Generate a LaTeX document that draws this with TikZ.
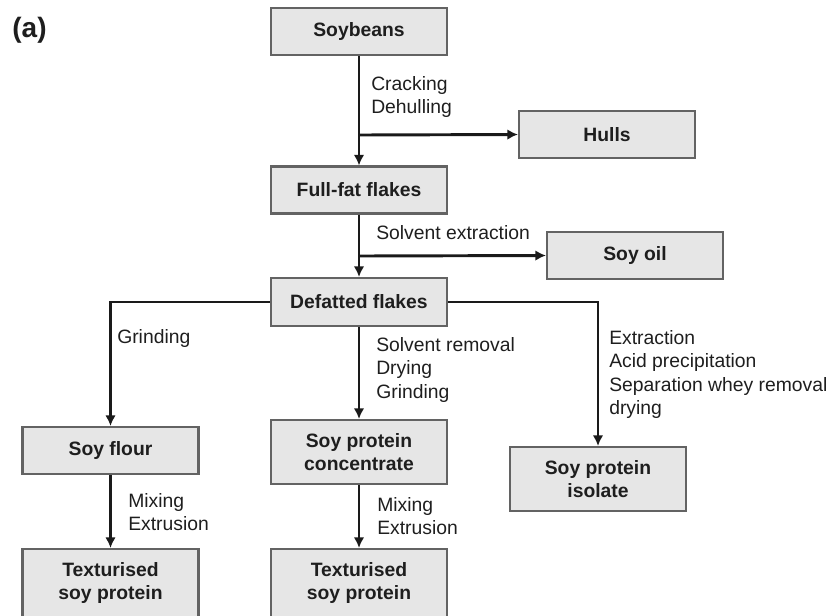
\documentclass[tikz,border=0pt]{standalone}
\usepackage{fontspec}
\setmainfont{Liberation Sans}
\usetikzlibrary{arrows.meta}
\definecolor{boxfill}{HTML}{E6E6E6}
\definecolor{boxline}{HTML}{636363}
\definecolor{linecol}{HTML}{1A1A1A}
\definecolor{txtcol}{HTML}{1E1E1E}
\begin{document}
\begin{tikzpicture}[x=0.75pt,y=-0.75pt,
 box/.style={draw=boxline, fill=boxfill, line width=1.6pt, minimum width=132pt, minimum height=35.25pt, inner sep=0pt, align=center, text=txtcol, font=\fontsize{14.5}{17.6}\selectfont\bfseries},
 tallbox/.style={box, minimum height=48pt},
 lbl/.style={anchor=north west, inner sep=0pt, align=left, text=txtcol, font=\fontsize{14.5}{17.6}\selectfont},
 arr/.style={draw=linecol, line width=2.2pt, -{Latex[length=8pt,width=8pt]}}]
\useasboundingbox (0,0) rectangle (831,615);
\clip (0,0) rectangle (831,615);
% boxes
\node[box] (soy) at (359,31.5) {Soybeans};
\node[box] (hulls) at (607,134.5) {Hulls};
\node[box] (full) at (359,190) {Full-fat flakes};
\node[box] (oil) at (635,255.5) {Soy oil};
\node[box, minimum height=36pt] (def) at (359,302) {Defatted flakes};
\node[box] (flour) at (110.5,450.5) {Soy flour};
\node[tallbox] (spc) at (359,452) {Soy protein\\concentrate};
\node[tallbox] (spi) at (598,479) {Soy protein\\isolate};
\node[box, minimum height=51pt] (tex1) at (110.5,583) {Texturised\\soy protein};
\node[box, minimum height=51pt] (tex2) at (359,583) {Texturised\\soy protein};
\node[inner sep=0pt, text=txtcol, font=\fontsize{21}{25}\selectfont\bfseries] (lab) at (29.5,30) {(a)};
% branch points
\coordinate (b1) at (359,135);
\coordinate (b2) at (359,256);
% connectors
\draw[arr] (soy.south) -- (full.north);
\draw[arr] (b1) -- (hulls.west);
\draw[arr] (full.south) -- (def.north);
\draw[arr] (b2) -- (oil.west);
\draw[arr] (def.west) -| (flour.north);
\draw[arr] (def.south) -- (spc.north);
\draw[arr] (def.east) -| (spi.north);
\draw[arr] (flour.south) -- (tex1.north);
\draw[arr] (spc.south) -- (tex2.north);
% labels
\node[lbl] (l1) at (371,76) {Cracking\\Dehulling};
\node[lbl] (l2) at (376,225) {Solvent extraction};
\node[lbl] (l3) at (117,329) {Grinding};
\node[lbl] (l4) at (376,337) {Solvent removal\\Drying\\Grinding};
\node[lbl] (l5) at (609,330) {Extraction\\Acid precipitation\\Separation whey removal\\drying};
\node[lbl] (l6) at (128,493) {Mixing\\Extrusion};
\node[lbl] (l7) at (377,497) {Mixing\\Extrusion};
\end{tikzpicture}
\end{document}
